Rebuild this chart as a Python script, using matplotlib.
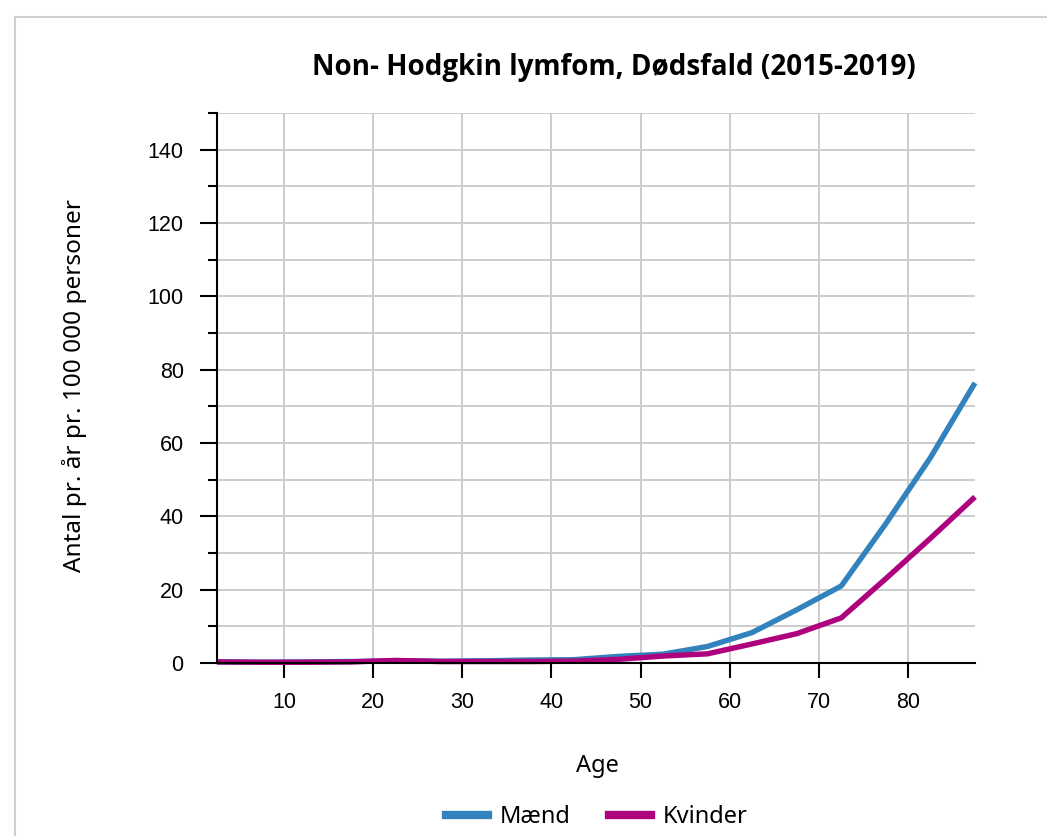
import matplotlib
matplotlib.use("Agg")
from matplotlib import pyplot as plt
from matplotlib.lines import Line2D
from matplotlib.ticker import MultipleLocator

# age group midpoints and rates per 100 000 per year
ages = [2.5, 7.5, 12.5, 17.5, 22.5, 27.5, 32.5, 37.5, 42.5,
        47.5, 52.5, 57.5, 62.5, 67.5, 72.5, 77.5, 82.5, 87.5]
maend = [0.3, 0.2, 0.3, 0.4, 0.6, 0.5, 0.6, 0.8, 0.9,
         1.8, 2.4, 4.5, 8.3, 14.5, 21.0, 38.0, 56.0, 76.4]
kvinder = [0.3, 0.2, 0.2, 0.3, 0.7, 0.4, 0.4, 0.4, 0.5,
           1.0, 1.9, 2.5, 5.2, 8.0, 12.3, 23.0, 34.0, 45.3]

title = "Non- Hodgkin lymfom, Dødsfald (2015-2019)"
xlabel = "Age"
ylabel = "Antal pr. år pr. 100 000 personer"
series_names = ["Mænd", "Kvinder"]
colors = ["#3182bd", "#ae017e"]

label_font = "Noto Sans"
title_font = "Open Sans"
tick_font = "Liberation Sans"

fig = plt.figure(figsize=(10.47, 8.36), dpi=100)
ax = fig.add_axes([217 / 1047, 1 - 663 / 836, (975 - 217) / 1047, (663 - 113) / 836])

ax.plot(ages, maend, color=colors[0], lw=3.9, solid_capstyle="butt", zorder=3, clip_on=False)
ax.plot(ages, kvinder, color=colors[1], lw=3.9, solid_capstyle="butt", zorder=3, clip_on=False)

ax.set_xlim(2.5, 87.5)
ax.set_ylim(0, 150)
ax.xaxis.set_major_locator(MultipleLocator(10))
ax.yaxis.set_minor_locator(MultipleLocator(10))
ax.set_yticks([0, 20, 40, 60, 80, 100, 120, 140])

ax.grid(True, which="both", axis="y", color="#cccccc", lw=1.4, zorder=0)
ax.grid(True, which="major", axis="x", color="#cccccc", lw=1.4, zorder=0)
ax.set_axisbelow(True)

for s in ["top", "right"]:
    ax.spines[s].set_visible(False)
for s in ["left", "bottom"]:
    ax.spines[s].set_linewidth(1.5)
    ax.spines[s].set_zorder(4)

ax.tick_params(axis="y", which="major", length=12, width=1.5, pad=12, labelsize=15.5)
ax.tick_params(axis="y", which="minor", length=6.5, width=1.5)
ax.tick_params(axis="x", which="major", length=11, width=1.5, pad=10, labelsize=15.5)
for lab in ax.get_xticklabels() + ax.get_yticklabels():
    lab.set_fontfamily(tick_font)

fig.text(614 / 1047, 1 - 67 / 836, title, ha="center", va="center",
         fontsize=20, fontweight="bold", family=title_font)
fig.text(597 / 1047, 1 - 766 / 836, xlabel, ha="center", va="center",
         fontsize=17, family=label_font)
fig.text(75 / 1047, 1 - 386 / 836, ylabel, ha="center", va="center",
         rotation=90, fontsize=17.5, family=label_font)

handles = [Line2D([], [], color=c, lw=6) for c in colors]
fig.legend(handles, series_names, loc="center", bbox_to_anchor=(597 / 1047, 1 - 817 / 836),
           ncol=2, frameon=False, prop={"family": label_font, "size": 17},
           handlelength=1.8, handletextpad=0.5, columnspacing=1.6)

# light frame around the chart area
fig.add_artist(Line2D([15 / 1047, 1.0], [1 - 17 / 836, 1 - 17 / 836], color="#d0d0d0", lw=1.5))
fig.add_artist(Line2D([15 / 1047, 15 / 1047], [0.0, 1 - 17 / 836], color="#d0d0d0", lw=1.5))

fig.savefig("out.png", dpi=100)
